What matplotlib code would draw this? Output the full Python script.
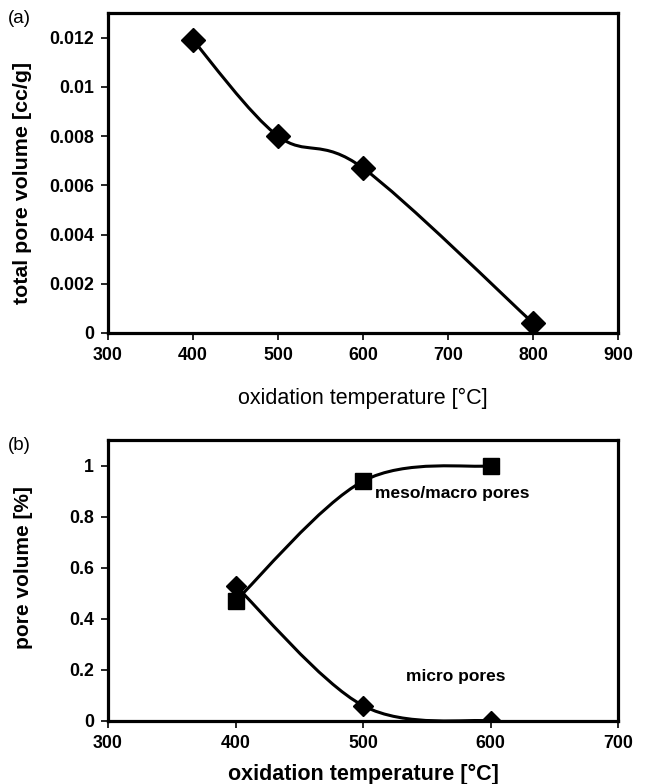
import numpy as np
import matplotlib
matplotlib.use("Agg")
import matplotlib.pyplot as plt
from matplotlib.path import Path
from matplotlib.patches import PathPatch

plt.rcParams['font.family'] = ['Liberation Sans', 'DejaVu Sans']

# panel (a)
temp_a = [400, 500, 600, 800]
total_vol = [0.0119, 0.0080, 0.0067, 0.0004]

# panel (b)
temp_b = [400, 500, 600]
meso_macro = [0.47, 0.94, 1.0]
micro = [0.53, 0.06, 0.0]


def smooth_line(ax, xs, ys, lw=2.2):
    # excel style smoothed line (catmull-rom as cubic bezier)
    p = np.column_stack([xs, ys]).astype(float)
    n = len(p)
    verts = [p[0]]
    codes = [Path.MOVETO]
    for i in range(n - 1):
        p0 = p[i - 1] if i > 0 else p[i]
        p1 = p[i]
        p2 = p[i + 1]
        p3 = p[i + 2] if i + 2 < n else p[i + 1]
        c1 = p1 + (p2 - p0) / 6.0
        c2 = p2 - (p3 - p1) / 6.0
        verts += [c1, c2, p2]
        codes += [Path.CURVE4] * 3
    ax.add_patch(PathPatch(Path(verts, codes), facecolor='none',
                           edgecolor='black', lw=lw, zorder=2))


def style(ax):
    for s in ax.spines.values():
        s.set_linewidth(2.3)
    ax.tick_params(direction='out', length=5, width=1.2, labelsize=12.8, pad=5)
    for lab in ax.get_xticklabels() + ax.get_yticklabels():
        lab.set_fontweight('bold')


fig = plt.figure(figsize=(6.45, 7.84), dpi=100)

ax1 = fig.add_axes([0.1674, 0.5753, 0.791, 0.408])
smooth_line(ax1, temp_a, total_vol)
ax1.plot(temp_a, total_vol, 'D', color='black', ms=12, zorder=3)
ax1.set_xlim(300, 900)
ax1.set_ylim(0, 0.013)
ax1.set_xticks([300, 400, 500, 600, 700, 800, 900])
ax1.set_yticks([0, 0.002, 0.004, 0.006, 0.008, 0.01, 0.012])
ax1.set_yticklabels(['0', '0.002', '0.004', '0.006', '0.008', '0.01', '0.012'])
style(ax1)
ax1.set_ylabel('total pore volume [cc/g]', fontsize=15.4, fontweight='bold')
ax1.yaxis.set_label_coords(-0.149, 0.47)
ax1.set_xlabel('oxidation temperature [°C]', fontsize=15.5, labelpad=17)
fig.text(0.012, 0.977, '(a)', fontsize=13.5, va='center')

ax2 = fig.add_axes([0.1674, 0.0804, 0.791, 0.358])
smooth_line(ax2, temp_b, meso_macro)
smooth_line(ax2, temp_b, micro)
ax2.plot(temp_b, micro, 'D', color='black', ms=10, zorder=3)
ax2.plot(temp_b, meso_macro, 's', color='black', ms=11.5, zorder=4)
ax2.set_xlim(300, 700)
ax2.set_ylim(0, 1.1)
ax2.set_xticks([300, 400, 500, 600, 700])
ax2.set_yticks([0, 0.2, 0.4, 0.6, 0.8, 1])
ax2.set_yticklabels(['0', '0.2', '0.4', '0.6', '0.8', '1'])
style(ax2)
ax2.set_ylabel('pore volume [%]', fontsize=15, fontweight='bold')
ax2.yaxis.set_label_coords(-0.147, 0.545)
ax2.set_xlabel('oxidation temperature [°C]', fontsize=15.5, fontweight='bold', labelpad=9)
ax2.text(509, 0.89, 'meso/macro pores', fontsize=12.5, fontweight='bold', va='center')
ax2.text(534, 0.176, 'micro pores', fontsize=12.5, fontweight='bold', va='center')
fig.text(0.012, 0.432, '(b)', fontsize=13.5, va='center')

fig.savefig('out.png', dpi=100)
